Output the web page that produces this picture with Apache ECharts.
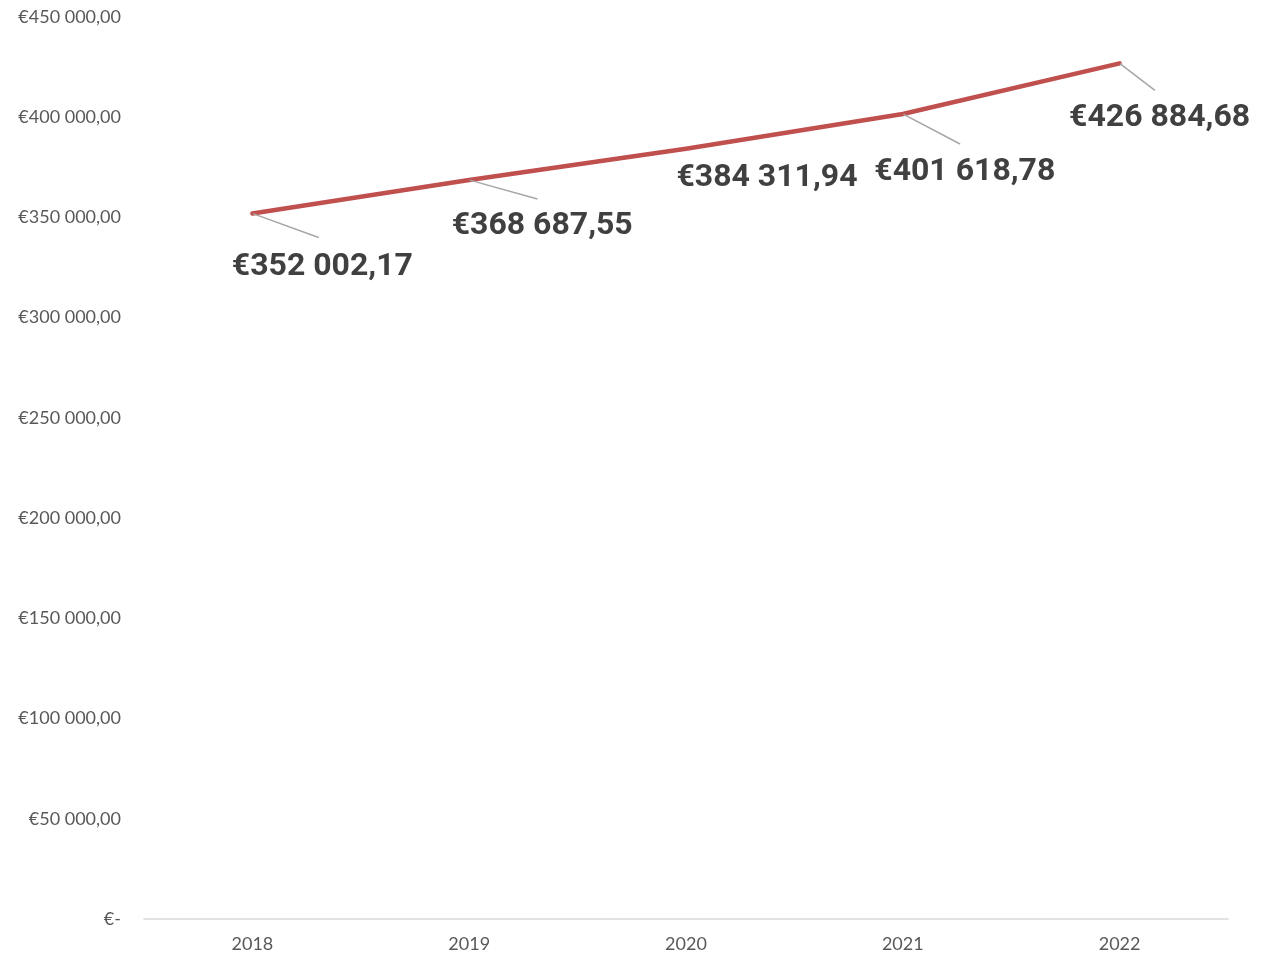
<!doctype html>
<html>
	<head>
		<meta charset="UTF-8">
		<title></title>
		<style>
			html, body { margin: 0; padding: 0; background: #fff; }
			#main { width: 1281px; height: 955px; }
		</style>
	</head>
	<body>
		<div id="main"></div>
		<script src="https://cdn.jsdelivr.net/npm/echarts@6/dist/echarts.min.js"></script>
		<script>
			// 数据
			var years = ['2018', '2019', '2020', '2021', '2022'];
			var amounts = [352002.17, 368687.55, 384311.94, 401618.78, 426884.68];
			var yMin = 0;
			var yMax = 450000;
			var yStep = 50000;

			// 欧元格式:€352 002,17
			function euro(v) {
				if (v === 0) return '€-';
				var parts = v.toFixed(2).split('.');
				var intPart = parts[0].replace(/\B(?=(\d{3})+(?!\d))/g, ' ');
				return '€' + intPart + ',' + parts[1];
			}

			// 标签偏移(相对于数据点)
			var labelShift = [[70, 54], [73, 46], [81, 29], [62, 58], [40, 55]];
			// 引导线终点偏移
			var leaderEnd = [[66, 24], [68, 19], null, [57, 30], [35, 27]];

			var leaderData = amounts.map(function(v, i) {
				var item = { value: v };
				if (!leaderEnd[i]) {
					item.label = { show: false };
					item.labelLine = { show: false };
				}
				return item;
			});

			var myChart = echarts.init(document.getElementById('main'));
			var option = {
				backgroundColor: '#fff',
				animation: false,
				grid: { left: 144, right: 53, top: 17, bottom: 36 },
				xAxis: {
					type: 'category',
					data: years,
					boundaryGap: true,
					axisLine: { lineStyle: { color: '#D9D9D9', width: 1.5 } },
					axisTick: { show: false },
					axisLabel: {
						color: '#595959',
						fontSize: 18,
						fontFamily: 'Lato',
						margin: 16
					}
				},
				yAxis: {
					type: 'value',
					min: yMin,
					max: yMax,
					interval: yStep,
					axisLine: { show: false },
					axisTick: { show: false },
					splitLine: { show: false },
					axisLabel: {
						color: '#595959',
						fontSize: 18,
						fontFamily: 'Lato',
						margin: 23,
						formatter: euro
					}
				},
				series: [{
					// 引导线(透明)
					type: 'line',
					data: leaderData,
					symbol: 'circle',
					symbolSize: 1,
					silent: true,
					itemStyle: { opacity: 0 },
					lineStyle: { opacity: 0 },
					label: {
						show: true,
						position: 'inside',
						color: 'transparent',
						fontSize: 2,
						formatter: '.'
					},
					labelLine: {
						show: true,
						lineStyle: { color: '#A6A6A6', width: 1.5 }
					},
					labelLayout: function(p) {
						var s = leaderEnd[p.dataIndex] || [0, 0];
						return { dx: s[0], dy: s[1], align: 'left', verticalAlign: 'top' };
					}
				}, {
					type: 'line',
					data: amounts,
					symbol: 'circle',
					symbolSize: 1,
					showSymbol: true,
					itemStyle: { color: '#C0504D' },
					lineStyle: { color: '#C0504D', width: 4.5, cap: 'round', join: 'round' },
					label: {
						show: true,
						position: 'inside',
						color: '#404040',
						fontSize: 32,
						fontWeight: 'bold',
						fontFamily: 'Roboto',
						formatter: function(p) { return euro(p.value); }
					},
					labelLayout: function(p) {
						var s = labelShift[p.dataIndex];
						return { dx: s[0], dy: s[1] };
					}
				}]
			};
			myChart.setOption(option);
		</script>
	</body>
</html>
